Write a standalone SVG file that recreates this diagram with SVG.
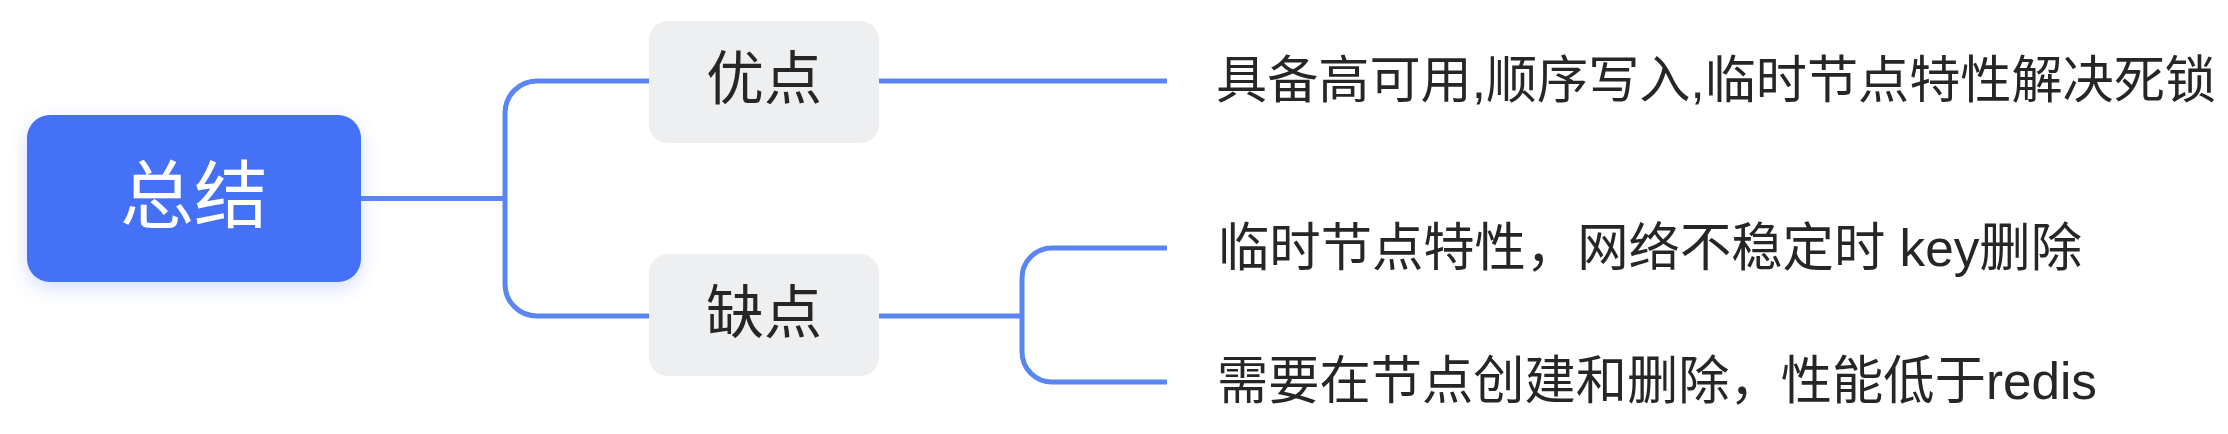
<svg xmlns="http://www.w3.org/2000/svg" width="2228" height="434" viewBox="0 0 2228 434">
  <defs>
    <filter id="shadow" x="-20%" y="-30%" width="140%" height="170%">
      <feDropShadow dx="0" dy="6" stdDeviation="9" flood-color="#4571F6" flood-opacity="0.22"/>
    </filter>
  </defs>
  <style>
    .conn { fill: none; stroke: #5A86F3; stroke-width: 5; stroke-linecap: butt; stroke-linejoin: round; }
    .sub { fill: #EEEFF1; }
    .t { font-family: "Liberation Sans", "Noto Sans CJK SC", sans-serif; fill: #262626; }
    .mid { text-anchor: middle; }
  </style>
  <rect width="2228" height="434" fill="#FFFFFF"/>
  <g id="connectors">
    <path class="conn" d="M360,198.5 H505"/>
    <path class="conn" d="M649,81 H537 A32,32 0 0 0 505,113 V284 A32,32 0 0 0 537,316 H649"/>
    <path class="conn" d="M879,81 H1167"/>
    <path class="conn" d="M879,316 H1022"/>
    <path class="conn" d="M1167,248 H1052 A30,30 0 0 0 1022,278 V352 A30,30 0 0 0 1052,382 H1167"/>
  </g>
  <g id="node-root">
    <rect x="27" y="115" width="334" height="167" rx="23" fill="#4571F6" filter="url(#shadow)"/>
    <text class="t mid" x="194" y="222" font-size="74" style="fill:#FFFFFF">总结</text>
  </g>
  <g id="node-pros">
    <rect class="sub" x="649" y="21" width="230" height="122" rx="19"/>
    <text class="t mid" x="764" y="99" font-size="58">优点</text>
  </g>
  <g id="node-cons">
    <rect class="sub" x="649" y="254" width="230" height="122" rx="19"/>
    <text class="t mid" x="764" y="333" font-size="58">缺点</text>
  </g>
  <g id="node-pros-detail">
    <text class="t" x="1216" y="98" font-size="51" textLength="1000" lengthAdjust="spacingAndGlyphs">具备高可用,顺序写入,临时节点特性解决死锁</text>
  </g>
  <g id="node-cons-detail-1">
    <text class="t" x="1218" y="266" font-size="52" textLength="864" lengthAdjust="spacingAndGlyphs">临时节点特性，网络不稳定时 key删除</text>
  </g>
  <g id="node-cons-detail-2">
    <text class="t" x="1217" y="399" font-size="52" textLength="880" lengthAdjust="spacingAndGlyphs">需要在节点创建和删除，性能低于redis</text>
  </g>
</svg>
